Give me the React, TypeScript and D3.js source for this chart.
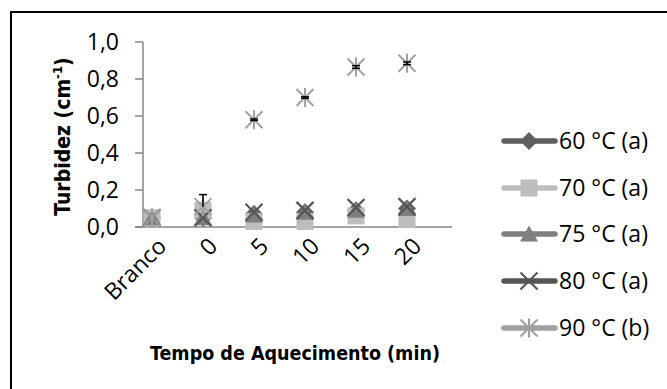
import React from "react";
import * as d3 from "d3";

// Categories on the x axis
const categories = ["Branco", "0", "5", "10", "15", "20"];

// Turbidity (cm-1) per heating temperature
const s60 = [0.05, 0.05, 0.07, 0.08, 0.09, 0.10];
const s70 = [0.05, 0.09, 0.03, 0.03, 0.06, 0.04];
const s75 = [0.05, 0.05, 0.065, 0.08, 0.09, 0.10];
const s80 = [0.05, 0.05, 0.08, 0.09, 0.105, 0.11];
const s90 = [0.05, 0.11, 0.58, 0.70, 0.865, 0.885];
const err90Plus = [0.0, 0.065, 0.004, 0.004, 0.007, 0.007];
const err90Minus = [0.0, 0.0, 0.004, 0.004, 0.007, 0.007];

const seriesNames = ["60 °C (a)", "70 °C (a)", "75 °C (a)", "80 °C (a)", "90 °C (b)"];
const yTicks = [0, 0.2, 0.4, 0.6, 0.8, 1.0];

type Shape = "diamond" | "square" | "triangle" | "x" | "star";

const series = [
  { name: seriesNames[0], values: s60, color: "#5f5f5f", shape: "diamond" as Shape },
  { name: seriesNames[1], values: s70, color: "#bdbdbd", shape: "square" as Shape },
  { name: seriesNames[2], values: s75, color: "#7f7f7f", shape: "triangle" as Shape },
  { name: seriesNames[3], values: s80, color: "#555555", shape: "x" as Shape },
  { name: seriesNames[4], values: s90, color: "#a0a0a0", shape: "star" as Shape },
];

const W = 667;
const H = 389;
const axisLeft = 143;
const axisRight = 452;
const yTop = 42;
const yBottom = 227;

const x = d3.scalePoint<string>().domain(categories).range([152, 407]);
const y = d3.scaleLinear().domain([0, 1]).range([yBottom, yTop]);

function Marker({ shape, cx, cy, color }: { shape: Shape; cx: number; cy: number; color: string }) {
  const r = 9;
  if (shape === "diamond") {
    const pts = [[cx, cy - r], [cx + r, cy], [cx, cy + r], [cx - r, cy]].map((p) => p.join(",")).join(" ");
    return <polygon points={pts} fill={color} />;
  }
  if (shape === "square") {
    return <rect x={cx - 8.5} y={cy - 8.5} width={17} height={17} fill={color} />;
  }
  if (shape === "triangle") {
    const pts = [[cx, cy - 8.5], [cx + 9, cy + 7.5], [cx - 9, cy + 7.5]].map((p) => p.join(",")).join(" ");
    return <polygon points={pts} fill={color} />;
  }
  if (shape === "x") {
    const a = 8.5;
    return (
      <g stroke={color} strokeWidth={2.2}>
        <line x1={cx - a} y1={cy - a} x2={cx + a} y2={cy + a} />
        <line x1={cx - a} y1={cy + a} x2={cx + a} y2={cy - a} />
      </g>
    );
  }
  const a = 8.5;
  return (
    <g stroke={color} strokeWidth={2}>
      <line x1={cx - a} y1={cy - a} x2={cx + a} y2={cy + a} />
      <line x1={cx - a} y1={cy + a} x2={cx + a} y2={cy - a} />
      <line x1={cx} y1={cy - a - 1} x2={cx} y2={cy + a + 1} />
    </g>
  );
}

export default function App() {
  const font = "'Open Sans', sans-serif";
  const titleFont = "'DejaVu Sans Condensed', 'DejaVu Sans', sans-serif";
  const legendY = [141, 188, 234, 281, 328];
  return (
    <svg
      width={W}
      height={H}
      style={{ position: "absolute", left: 0, top: 0, background: "#fff", overflow: "hidden" }}
      fontFamily={font}
    >
      <rect x={0} y={0} width={W} height={H} fill="#fff" />
      {/* chart frame, running off the right and bottom edges */}
      <line x1={11} y1={12} x2={W} y2={12} stroke="#000" strokeWidth={2} />
      <line x1={11} y1={11} x2={11} y2={H} stroke="#000" strokeWidth={2} />

      {/* y axis */}
      <line x1={axisLeft} y1={yTop} x2={axisLeft} y2={yBottom} stroke="#868686" strokeWidth={1.5} />
      {yTicks.map((t) => (
        <g key={t}>
          <line x1={axisLeft - 8} x2={axisLeft} y1={y(t)} y2={y(t)} stroke="#868686" strokeWidth={1.5} />
          <text x={119} y={y(t)} dy="0.36em" textAnchor="end" fontSize={23} fill="#000">
            {d3.format(".1f")(t).replace(".", ",")}
          </text>
        </g>
      ))}
      <text
        transform={`translate(63,${(yTop + yBottom) / 2 + 2}) rotate(-90)`}
        textAnchor="middle"
        dy="0.35em"
        fontSize={21}
        fontWeight="bold"
        fontFamily={titleFont}
        fill="#000"
      >
        Turbidez (cm<tspan dy="-8" fontSize={13}>-1</tspan><tspan dy="8">)</tspan>
      </text>

      {/* x axis */}
      <line x1={axisLeft - 8} y1={yBottom} x2={axisRight} y2={yBottom} stroke="#868686" strokeWidth={1.5} />
      {categories.map((c) => (
        <text
          key={c}
          transform={`translate(${(x(c) as number) + 10},${yBottom + 15}) rotate(-45)`}
          textAnchor="end"
          dy="0.35em"
          fontSize={23}
          fill="#000"
        >
          {c}
        </text>
      ))}
      <text
        x={295}
        y={353}
        dy="0.36em"
        textAnchor="middle"
        fontSize={19.5}
        fontWeight="bold"
        fontFamily={titleFont}
        fill="#000"
      >
        Tempo de Aquecimento (min)
      </text>

      {/* markers */}
      {series.map((s) => (
        <g key={s.name}>
          {s.values.map((v, i) => (
            <Marker key={i} shape={s.shape} cx={x(categories[i]) as number} cy={y(v)} color={s.color} />
          ))}
        </g>
      ))}

      {/* error bars for 90 °C */}
      {s90.map((v, i) => {
        const cx = x(categories[i]) as number;
        const hi = v + err90Plus[i];
        const lo = v - err90Minus[i];
        if (hi === lo) return null;
        return (
          <g key={i} stroke="#000" strokeWidth={1.5}>
            <line x1={cx} x2={cx} y1={y(lo)} y2={y(hi)} />
            <line x1={cx - 4} x2={cx + 4} y1={y(hi)} y2={y(hi)} />
            {err90Minus[i] > 0 ? <line x1={cx - 4} x2={cx + 4} y1={y(lo)} y2={y(lo)} /> : null}
          </g>
        );
      })}

      {/* legend */}
      {series.map((s, i) => (
        <g key={s.name}>
          <line x1={504} x2={555} y1={legendY[i]} y2={legendY[i]} stroke={s.color} strokeWidth={5.5} strokeLinecap="round" />
          <Marker shape={s.shape} cx={529} cy={legendY[i]} color={s.color} />
          <text x={559} y={legendY[i]} dy="0.36em" fontSize={23} fill="#000">
            {s.name}
          </text>
        </g>
      ))}
    </svg>
  );
}
